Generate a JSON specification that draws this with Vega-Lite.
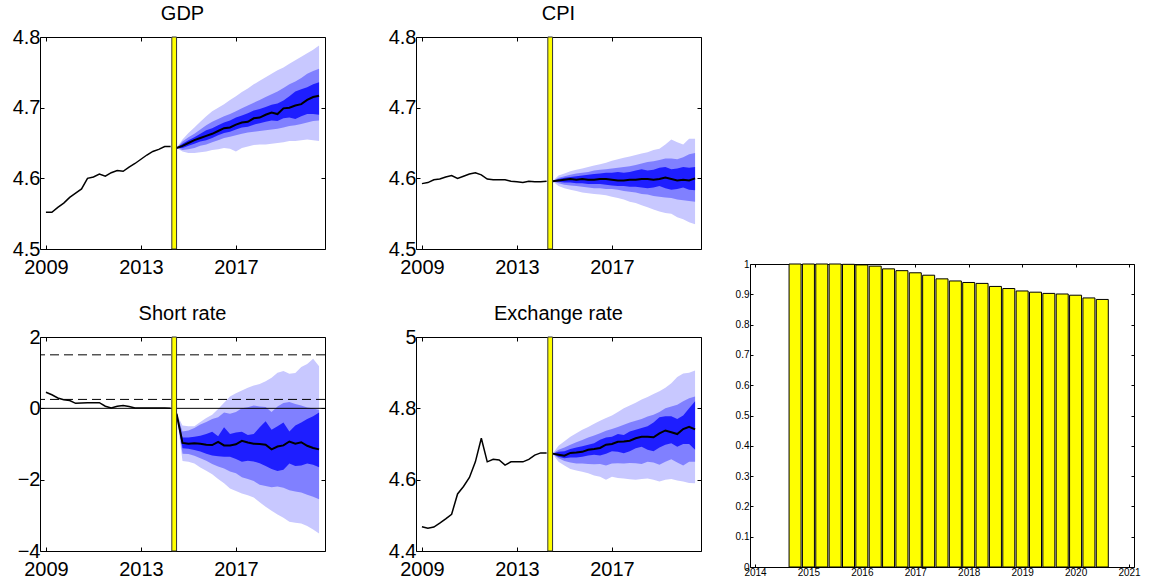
{
  "$schema": "https://vega.github.io/schema/vega-lite/v6.json",
  "padding": {"left": 7, "top": 3, "right": 0, "bottom": 1},
  "background": "white",
  "config": {
    "font": "Liberation Sans",
    "view": {"stroke": "black", "strokeWidth": 1},
    "axis": {"labelColor": "black", "tickColor": "black", "labelFont": "Liberation Sans", "domain": false, "grid": false, "title": null, "tickWidth": 1},
    "title": {"fontSize": 20, "fontWeight": "normal", "font": "Liberation Sans", "color": "black", "frame": "group", "anchor": "middle", "offset": 3}
  },
  "datasets": {
    "hist": [
      {"v":"GDP","t":2009,"y":4.552},{"v":"GDP","t":2009.25,"y":4.552},{"v":"GDP","t":2009.5,"y":4.559},{"v":"GDP","t":2009.75,"y":4.565},{"v":"GDP","t":2010,"y":4.573},{"v":"GDP","t":2010.25,"y":4.579},{"v":"GDP","t":2010.5,"y":4.585},{"v":"GDP","t":2010.75,"y":4.600},{"v":"GDP","t":2011,"y":4.602},{"v":"GDP","t":2011.25,"y":4.606},{"v":"GDP","t":2011.5,"y":4.603},{"v":"GDP","t":2011.75,"y":4.608},{"v":"GDP","t":2012,"y":4.611},{"v":"GDP","t":2012.25,"y":4.610},{"v":"GDP","t":2012.5,"y":4.616},{"v":"GDP","t":2012.75,"y":4.621},{"v":"GDP","t":2013,"y":4.627},{"v":"GDP","t":2013.25,"y":4.633},{"v":"GDP","t":2013.5,"y":4.638},{"v":"GDP","t":2013.75,"y":4.641},{"v":"GDP","t":2014,"y":4.645},{"v":"GDP","t":2014.25,"y":4.645},
      {"v":"CPI","t":2009,"y":4.5925},{"v":"CPI","t":2009.25,"y":4.594},{"v":"CPI","t":2009.5,"y":4.598},{"v":"CPI","t":2009.75,"y":4.599},{"v":"CPI","t":2010,"y":4.602},{"v":"CPI","t":2010.25,"y":4.604},{"v":"CPI","t":2010.5,"y":4.600},{"v":"CPI","t":2010.75,"y":4.603},{"v":"CPI","t":2011,"y":4.606},{"v":"CPI","t":2011.25,"y":4.608},{"v":"CPI","t":2011.5,"y":4.605},{"v":"CPI","t":2011.75,"y":4.599},{"v":"CPI","t":2012,"y":4.598},{"v":"CPI","t":2012.25,"y":4.598},{"v":"CPI","t":2012.5,"y":4.598},{"v":"CPI","t":2012.75,"y":4.596},{"v":"CPI","t":2013,"y":4.595},{"v":"CPI","t":2013.25,"y":4.594},{"v":"CPI","t":2013.5,"y":4.596},{"v":"CPI","t":2013.75,"y":4.595},{"v":"CPI","t":2014,"y":4.595},{"v":"CPI","t":2014.25,"y":4.596},
      {"v":"SR","t":2009,"y":0.45},{"v":"SR","t":2009.25,"y":0.38},{"v":"SR","t":2009.5,"y":0.29},{"v":"SR","t":2009.75,"y":0.24},{"v":"SR","t":2010,"y":0.22},{"v":"SR","t":2010.25,"y":0.14},{"v":"SR","t":2010.5,"y":0.15},{"v":"SR","t":2010.75,"y":0.16},{"v":"SR","t":2011,"y":0.16},{"v":"SR","t":2011.25,"y":0.16},{"v":"SR","t":2011.5,"y":0.06},{"v":"SR","t":2011.75,"y":0.01},{"v":"SR","t":2012,"y":0.06},{"v":"SR","t":2012.25,"y":0.08},{"v":"SR","t":2012.5,"y":0.05},{"v":"SR","t":2012.75,"y":0.01},{"v":"SR","t":2013,"y":0.01},{"v":"SR","t":2013.25,"y":0.01},{"v":"SR","t":2013.5,"y":0.01},{"v":"SR","t":2013.75,"y":0.01},{"v":"SR","t":2014,"y":0.01},{"v":"SR","t":2014.25,"y":0.0},
      {"v":"ER","t":2009,"y":4.468},{"v":"ER","t":2009.25,"y":4.464},{"v":"ER","t":2009.5,"y":4.467},{"v":"ER","t":2009.75,"y":4.478},{"v":"ER","t":2010,"y":4.490},{"v":"ER","t":2010.25,"y":4.503},{"v":"ER","t":2010.5,"y":4.560},{"v":"ER","t":2010.75,"y":4.581},{"v":"ER","t":2011,"y":4.606},{"v":"ER","t":2011.25,"y":4.650},{"v":"ER","t":2011.5,"y":4.716},{"v":"ER","t":2011.75,"y":4.650},{"v":"ER","t":2012,"y":4.657},{"v":"ER","t":2012.25,"y":4.655},{"v":"ER","t":2012.5,"y":4.641},{"v":"ER","t":2012.75,"y":4.650},{"v":"ER","t":2013,"y":4.650},{"v":"ER","t":2013.25,"y":4.650},{"v":"ER","t":2013.5,"y":4.657},{"v":"ER","t":2013.75,"y":4.669},{"v":"ER","t":2014,"y":4.675},{"v":"ER","t":2014.25,"y":4.675}
    ],
    "fc": [
      {"v":"GDP","t":2014.5,"m":4.643,"l3":4.643,"l2":4.643,"l1":4.643,"u1":4.643,"u2":4.643,"u3":4.643},
      {"v":"GDP","t":2014.75,"m":4.646,"l3":4.638,"l2":4.640,"l1":4.643,"u1":4.649,"u2":4.652,"u3":4.655},
      {"v":"GDP","t":2015,"m":4.650,"l3":4.636,"l2":4.641,"l1":4.646,"u1":4.654,"u2":4.658,"u3":4.664},
      {"v":"GDP","t":2015.25,"m":4.654,"l3":4.636,"l2":4.643,"l1":4.649,"u1":4.658,"u2":4.663,"u3":4.672},
      {"v":"GDP","t":2015.5,"m":4.657,"l3":4.637,"l2":4.646,"l1":4.652,"u1":4.663,"u2":4.669,"u3":4.680},
      {"v":"GDP","t":2015.75,"m":4.660,"l3":4.638,"l2":4.648,"l1":4.654,"u1":4.668,"u2":4.675,"u3":4.688},
      {"v":"GDP","t":2016,"m":4.663,"l3":4.640,"l2":4.651,"l1":4.657,"u1":4.671,"u2":4.680,"u3":4.695},
      {"v":"GDP","t":2016.25,"m":4.667,"l3":4.641,"l2":4.654,"l1":4.661,"u1":4.675,"u2":4.684,"u3":4.700},
      {"v":"GDP","t":2016.5,"m":4.671,"l3":4.643,"l2":4.657,"l1":4.664,"u1":4.679,"u2":4.688,"u3":4.705},
      {"v":"GDP","t":2016.75,"m":4.672,"l3":4.642,"l2":4.659,"l1":4.666,"u1":4.682,"u2":4.691,"u3":4.711},
      {"v":"GDP","t":2017,"m":4.676,"l3":4.638,"l2":4.661,"l1":4.669,"u1":4.686,"u2":4.695,"u3":4.716},
      {"v":"GDP","t":2017.25,"m":4.679,"l3":4.643,"l2":4.663,"l1":4.672,"u1":4.689,"u2":4.699,"u3":4.722},
      {"v":"GDP","t":2017.5,"m":4.680,"l3":4.645,"l2":4.665,"l1":4.673,"u1":4.692,"u2":4.703,"u3":4.727},
      {"v":"GDP","t":2017.75,"m":4.685,"l3":4.647,"l2":4.666,"l1":4.676,"u1":4.696,"u2":4.707,"u3":4.733},
      {"v":"GDP","t":2018,"m":4.686,"l3":4.648,"l2":4.667,"l1":4.678,"u1":4.698,"u2":4.711,"u3":4.738},
      {"v":"GDP","t":2018.25,"m":4.690,"l3":4.648,"l2":4.668,"l1":4.680,"u1":4.701,"u2":4.715,"u3":4.743},
      {"v":"GDP","t":2018.5,"m":4.693,"l3":4.649,"l2":4.669,"l1":4.682,"u1":4.704,"u2":4.719,"u3":4.748},
      {"v":"GDP","t":2018.75,"m":4.691,"l3":4.650,"l2":4.670,"l1":4.681,"u1":4.706,"u2":4.723,"u3":4.753},
      {"v":"GDP","t":2019,"m":4.699,"l3":4.651,"l2":4.672,"l1":4.685,"u1":4.710,"u2":4.728,"u3":4.757},
      {"v":"GDP","t":2019.25,"m":4.700,"l3":4.653,"l2":4.674,"l1":4.686,"u1":4.716,"u2":4.733,"u3":4.762},
      {"v":"GDP","t":2019.5,"m":4.703,"l3":4.653,"l2":4.675,"l1":4.684,"u1":4.723,"u2":4.737,"u3":4.767},
      {"v":"GDP","t":2019.75,"m":4.705,"l3":4.654,"l2":4.677,"l1":4.688,"u1":4.726,"u2":4.742,"u3":4.772},
      {"v":"GDP","t":2020,"m":4.711,"l3":4.655,"l2":4.679,"l1":4.691,"u1":4.729,"u2":4.748,"u3":4.777},
      {"v":"GDP","t":2020.25,"m":4.715,"l3":4.654,"l2":4.681,"l1":4.691,"u1":4.733,"u2":4.752,"u3":4.782},
      {"v":"GDP","t":2020.5,"m":4.717,"l3":4.653,"l2":4.682,"l1":4.690,"u1":4.736,"u2":4.755,"u3":4.788},

      {"v":"CPI","t":2014.5,"m":4.596,"l3":4.596,"l2":4.596,"l1":4.596,"u1":4.596,"u2":4.596,"u3":4.596},
      {"v":"CPI","t":2014.75,"m":4.597,"l3":4.589,"l2":4.593,"l1":4.595,"u1":4.599,"u2":4.601,"u3":4.604},
      {"v":"CPI","t":2015,"m":4.598,"l3":4.586,"l2":4.591,"l1":4.594,"u1":4.601,"u2":4.603,"u3":4.607},
      {"v":"CPI","t":2015.25,"m":4.599,"l3":4.584,"l2":4.590,"l1":4.594,"u1":4.602,"u2":4.605,"u3":4.610},
      {"v":"CPI","t":2015.5,"m":4.598,"l3":4.582,"l2":4.589,"l1":4.593,"u1":4.603,"u2":4.607,"u3":4.612},
      {"v":"CPI","t":2015.75,"m":4.599,"l3":4.580,"l2":4.588,"l1":4.593,"u1":4.604,"u2":4.608,"u3":4.614},
      {"v":"CPI","t":2016,"m":4.598,"l3":4.579,"l2":4.587,"l1":4.592,"u1":4.605,"u2":4.609,"u3":4.616},
      {"v":"CPI","t":2016.25,"m":4.598,"l3":4.578,"l2":4.586,"l1":4.592,"u1":4.606,"u2":4.611,"u3":4.618},
      {"v":"CPI","t":2016.5,"m":4.599,"l3":4.577,"l2":4.586,"l1":4.592,"u1":4.607,"u2":4.612,"u3":4.620},
      {"v":"CPI","t":2016.75,"m":4.599,"l3":4.576,"l2":4.585,"l1":4.591,"u1":4.608,"u2":4.613,"u3":4.622},
      {"v":"CPI","t":2017,"m":4.598,"l3":4.574,"l2":4.585,"l1":4.590,"u1":4.608,"u2":4.614,"u3":4.625},
      {"v":"CPI","t":2017.25,"m":4.597,"l3":4.572,"l2":4.584,"l1":4.589,"u1":4.609,"u2":4.615,"u3":4.627},
      {"v":"CPI","t":2017.5,"m":4.597,"l3":4.570,"l2":4.582,"l1":4.589,"u1":4.608,"u2":4.616,"u3":4.629},
      {"v":"CPI","t":2017.75,"m":4.598,"l3":4.567,"l2":4.581,"l1":4.588,"u1":4.609,"u2":4.617,"u3":4.631},
      {"v":"CPI","t":2018,"m":4.598,"l3":4.565,"l2":4.580,"l1":4.588,"u1":4.611,"u2":4.619,"u3":4.633},
      {"v":"CPI","t":2018.25,"m":4.599,"l3":4.562,"l2":4.578,"l1":4.587,"u1":4.613,"u2":4.621,"u3":4.635},
      {"v":"CPI","t":2018.5,"m":4.599,"l3":4.559,"l2":4.577,"l1":4.586,"u1":4.611,"u2":4.623,"u3":4.637},
      {"v":"CPI","t":2018.75,"m":4.598,"l3":4.556,"l2":4.575,"l1":4.587,"u1":4.612,"u2":4.624,"u3":4.640},
      {"v":"CPI","t":2019,"m":4.599,"l3":4.553,"l2":4.574,"l1":4.589,"u1":4.615,"u2":4.626,"u3":4.642},
      {"v":"CPI","t":2019.25,"m":4.601,"l3":4.551,"l2":4.573,"l1":4.586,"u1":4.616,"u2":4.628,"u3":4.648},
      {"v":"CPI","t":2019.5,"m":4.599,"l3":4.550,"l2":4.572,"l1":4.584,"u1":4.613,"u2":4.628,"u3":4.655},
      {"v":"CPI","t":2019.75,"m":4.597,"l3":4.545,"l2":4.570,"l1":4.585,"u1":4.614,"u2":4.627,"u3":4.651},
      {"v":"CPI","t":2020,"m":4.598,"l3":4.542,"l2":4.569,"l1":4.587,"u1":4.616,"u2":4.630,"u3":4.648},
      {"v":"CPI","t":2020.25,"m":4.597,"l3":4.538,"l2":4.568,"l1":4.584,"u1":4.615,"u2":4.634,"u3":4.656},
      {"v":"CPI","t":2020.5,"m":4.600,"l3":4.535,"l2":4.567,"l1":4.583,"u1":4.616,"u2":4.636,"u3":4.656},

      {"v":"SR","t":2014.5,"m":-0.15,"l3":-0.15,"l2":-0.15,"l1":-0.15,"u1":-0.15,"u2":-0.15,"u3":-0.15},
      {"v":"SR","t":2014.75,"m":-0.97,"l3":-1.48,"l2":-1.27,"l1":-1.12,"u1":-0.82,"u2":-0.65,"u3":-0.48},
      {"v":"SR","t":2015,"m":-0.99,"l3":-1.50,"l2":-1.28,"l1":-1.13,"u1":-0.82,"u2":-0.62,"u3":-0.50},
      {"v":"SR","t":2015.25,"m":-0.98,"l3":-1.55,"l2":-1.33,"l1":-1.17,"u1":-0.80,"u2":-0.55,"u3":-0.50},
      {"v":"SR","t":2015.5,"m":-0.99,"l3":-1.66,"l2":-1.40,"l1":-1.21,"u1":-0.77,"u2":-0.45,"u3":-0.38},
      {"v":"SR","t":2015.75,"m":-1.02,"l3":-1.75,"l2":-1.47,"l1":-1.27,"u1":-0.72,"u2":-0.38,"u3":-0.27},
      {"v":"SR","t":2016,"m":-1.03,"l3":-1.85,"l2":-1.56,"l1":-1.32,"u1":-0.66,"u2":-0.30,"u3":-0.18},
      {"v":"SR","t":2016.25,"m":-0.94,"l3":-1.98,"l2":-1.63,"l1":-1.34,"u1":-0.78,"u2":-0.25,"u3":-0.02},
      {"v":"SR","t":2016.5,"m":-1.04,"l3":-2.10,"l2":-1.69,"l1":-1.36,"u1":-0.53,"u2":-0.12,"u3":0.16},
      {"v":"SR","t":2016.75,"m":-1.04,"l3":-2.25,"l2":-1.77,"l1":-1.36,"u1":-0.72,"u2":-0.15,"u3":0.33},
      {"v":"SR","t":2017,"m":-1.01,"l3":-2.32,"l2":-1.82,"l1":-1.42,"u1":-0.68,"u2":-0.10,"u3":0.42},
      {"v":"SR","t":2017.25,"m":-0.91,"l3":-2.39,"l2":-1.93,"l1":-1.50,"u1":-0.66,"u2":0.00,"u3":0.50},
      {"v":"SR","t":2017.5,"m":-0.96,"l3":-2.44,"l2":-1.98,"l1":-1.47,"u1":-0.75,"u2":0.03,"u3":0.58},
      {"v":"SR","t":2017.75,"m":-0.99,"l3":-2.50,"l2":-2.04,"l1":-1.49,"u1":-0.72,"u2":0.08,"u3":0.64},
      {"v":"SR","t":2018,"m":-1.00,"l3":-2.63,"l2":-2.14,"l1":-1.54,"u1":-0.53,"u2":0.05,"u3":0.68},
      {"v":"SR","t":2018.25,"m":-1.02,"l3":-2.76,"l2":-2.18,"l1":-1.62,"u1":-0.36,"u2":0.04,"u3":0.76},
      {"v":"SR","t":2018.5,"m":-1.15,"l3":-2.87,"l2":-2.21,"l1":-1.70,"u1":-0.60,"u2":-0.10,"u3":0.86},
      {"v":"SR","t":2018.75,"m":-1.07,"l3":-2.98,"l2":-2.19,"l1":-1.76,"u1":-0.50,"u2":0.05,"u3":1.00},
      {"v":"SR","t":2019,"m":-1.04,"l3":-3.07,"l2":-2.23,"l1":-1.72,"u1":-0.40,"u2":0.15,"u3":1.05},
      {"v":"SR","t":2019.25,"m":-0.93,"l3":-3.18,"l2":-2.30,"l1":-1.55,"u1":-0.65,"u2":0.18,"u3":0.97},
      {"v":"SR","t":2019.5,"m":-0.99,"l3":-3.21,"l2":-2.33,"l1":-1.62,"u1":-0.48,"u2":0.12,"u3":0.99},
      {"v":"SR","t":2019.75,"m":-0.95,"l3":-3.23,"l2":-2.36,"l1":-1.60,"u1":-0.40,"u2":0.08,"u3":1.16},
      {"v":"SR","t":2020,"m":-1.05,"l3":-3.30,"l2":-2.42,"l1":-1.55,"u1":-0.30,"u2":0.02,"u3":1.24},
      {"v":"SR","t":2020.25,"m":-1.11,"l3":-3.40,"l2":-2.48,"l1":-1.58,"u1":-0.22,"u2":0.00,"u3":1.39},
      {"v":"SR","t":2020.5,"m":-1.15,"l3":-3.51,"l2":-2.55,"l1":-1.65,"u1":-0.12,"u2":-0.05,"u3":1.18},

      {"v":"ER","t":2014.5,"m":4.673,"l3":4.673,"l2":4.673,"l1":4.673,"u1":4.673,"u2":4.673,"u3":4.673},
      {"v":"ER","t":2014.75,"m":4.670,"l3":4.650,"l2":4.660,"l1":4.664,"u1":4.678,"u2":4.684,"u3":4.695},
      {"v":"ER","t":2015,"m":4.667,"l3":4.640,"l2":4.652,"l1":4.660,"u1":4.680,"u2":4.690,"u3":4.708},
      {"v":"ER","t":2015.25,"m":4.675,"l3":4.630,"l2":4.648,"l1":4.662,"u1":4.686,"u2":4.698,"u3":4.720},
      {"v":"ER","t":2015.5,"m":4.676,"l3":4.626,"l2":4.645,"l1":4.662,"u1":4.690,"u2":4.705,"u3":4.730},
      {"v":"ER","t":2015.75,"m":4.678,"l3":4.622,"l2":4.645,"l1":4.664,"u1":4.694,"u2":4.711,"u3":4.740},
      {"v":"ER","t":2016,"m":4.684,"l3":4.618,"l2":4.644,"l1":4.668,"u1":4.698,"u2":4.718,"u3":4.748},
      {"v":"ER","t":2016.25,"m":4.686,"l3":4.612,"l2":4.643,"l1":4.670,"u1":4.702,"u2":4.724,"u3":4.757},
      {"v":"ER","t":2016.5,"m":4.689,"l3":4.608,"l2":4.644,"l1":4.668,"u1":4.712,"u2":4.730,"u3":4.765},
      {"v":"ER","t":2016.75,"m":4.698,"l3":4.600,"l2":4.640,"l1":4.673,"u1":4.718,"u2":4.737,"u3":4.773},
      {"v":"ER","t":2017,"m":4.700,"l3":4.608,"l2":4.645,"l1":4.680,"u1":4.720,"u2":4.742,"u3":4.780},
      {"v":"ER","t":2017.25,"m":4.706,"l3":4.605,"l2":4.646,"l1":4.678,"u1":4.728,"u2":4.748,"u3":4.790},
      {"v":"ER","t":2017.5,"m":4.707,"l3":4.603,"l2":4.645,"l1":4.674,"u1":4.725,"u2":4.754,"u3":4.800},
      {"v":"ER","t":2017.75,"m":4.709,"l3":4.601,"l2":4.647,"l1":4.680,"u1":4.735,"u2":4.760,"u3":4.808},
      {"v":"ER","t":2018,"m":4.716,"l3":4.600,"l2":4.646,"l1":4.688,"u1":4.740,"u2":4.765,"u3":4.816},
      {"v":"ER","t":2018.25,"m":4.720,"l3":4.602,"l2":4.644,"l1":4.692,"u1":4.745,"u2":4.770,"u3":4.825},
      {"v":"ER","t":2018.5,"m":4.720,"l3":4.603,"l2":4.650,"l1":4.684,"u1":4.750,"u2":4.777,"u3":4.832},
      {"v":"ER","t":2018.75,"m":4.719,"l3":4.600,"l2":4.648,"l1":4.680,"u1":4.760,"u2":4.782,"u3":4.840},
      {"v":"ER","t":2019,"m":4.730,"l3":4.595,"l2":4.642,"l1":4.690,"u1":4.775,"u2":4.790,"u3":4.848},
      {"v":"ER","t":2019.25,"m":4.738,"l3":4.600,"l2":4.650,"l1":4.698,"u1":4.778,"u2":4.800,"u3":4.858},
      {"v":"ER","t":2019.5,"m":4.733,"l3":4.602,"l2":4.657,"l1":4.702,"u1":4.778,"u2":4.805,"u3":4.870},
      {"v":"ER","t":2019.75,"m":4.728,"l3":4.598,"l2":4.648,"l1":4.692,"u1":4.770,"u2":4.810,"u3":4.888},
      {"v":"ER","t":2020,"m":4.742,"l3":4.595,"l2":4.640,"l1":4.700,"u1":4.780,"u2":4.820,"u3":4.898},
      {"v":"ER","t":2020.25,"m":4.748,"l3":4.591,"l2":4.650,"l1":4.700,"u1":4.800,"u2":4.828,"u3":4.900},
      {"v":"ER","t":2020.5,"m":4.741,"l3":4.590,"l2":4.650,"l1":4.684,"u1":4.820,"u2":4.833,"u3":4.906}
    ],
    "prob": [
      {"t":2014.75,"p":1.0},{"t":2015,"p":1.0},{"t":2015.25,"p":1.0},{"t":2015.5,"p":1.0},{"t":2015.75,"p":0.999},{"t":2016,"p":0.997},{"t":2016.25,"p":0.993},{"t":2016.5,"p":0.984},{"t":2016.75,"p":0.978},{"t":2017,"p":0.971},{"t":2017.25,"p":0.963},{"t":2017.5,"p":0.951},{"t":2017.75,"p":0.944},{"t":2018,"p":0.939},{"t":2018.25,"p":0.936},{"t":2018.5,"p":0.926},{"t":2018.75,"p":0.919},{"t":2019,"p":0.911},{"t":2019.25,"p":0.907},{"t":2019.5,"p":0.903},{"t":2019.75,"p":0.901},{"t":2020,"p":0.897},{"t":2020.25,"p":0.888},{"t":2020.5,"p":0.883}
    ]
  },
  "spacing": 32,
  "hconcat": [
    {
      "spacing": 25,
      "vconcat": [
        {
          "spacing": 57,
          "hconcat": [
            {
              "width": 285, "height": 212,
              "title": "GDP",
              "layer": [
                {"data": {"name": "fc"}, "transform": [{"filter": "datum.v == 'GDP'"}], "mark": {"type": "area", "color": "#c8c8ff"},
                 "encoding": {"x": {"field": "t", "type": "quantitative", "scale": {"domain": [2008.75, 2020.75], "nice": false}, "axis": null}, "y": {"field": "l3", "type": "quantitative", "scale": {"domain": [4.5, 4.8], "nice": false}, "axis": null}, "y2": {"field": "u3"}}},
                {"data": {"name": "fc"}, "transform": [{"filter": "datum.v == 'GDP'"}], "mark": {"type": "area", "color": "#8080ff"},
                 "encoding": {"x": {"field": "t", "type": "quantitative", "axis": null}, "y": {"field": "l2", "type": "quantitative", "axis": null}, "y2": {"field": "u2"}}},
                {"data": {"name": "fc"}, "transform": [{"filter": "datum.v == 'GDP'"}], "mark": {"type": "area", "color": "#1e1eff"},
                 "encoding": {"x": {"field": "t", "type": "quantitative", "axis": null}, "y": {"field": "l1", "type": "quantitative", "axis": null}, "y2": {"field": "u1"}}},
                {"data": {"name": "fc"}, "transform": [{"filter": "datum.v == 'GDP'"}], "mark": {"type": "line", "color": "black", "strokeWidth": 2},
                 "encoding": {"x": {"field": "t", "type": "quantitative", "axis": null}, "y": {"field": "m", "type": "quantitative", "axis": null}}},
                {"data": {"values": [{"a": 2014.3, "b": 2014.5}]}, "mark": {"type": "rect", "fill": "#ffff00", "stroke": "#333333", "strokeWidth": 1},
                 "encoding": {"x": {"field": "a", "type": "quantitative", "axis": null}, "x2": {"field": "b"}}},
                {"data": {"name": "hist"}, "transform": [{"filter": "datum.v == 'GDP'"}], "mark": {"type": "line", "color": "black", "strokeWidth": 1.5},
                 "encoding": {"x": {"field": "t", "type": "quantitative", "axis": {"orient": "bottom", "values": [2009, 2013, 2017], "format": "d", "labelFontSize": 20, "tickSize": -4, "labelPadding": 12}},
                              "y": {"field": "y", "type": "quantitative", "axis": {"orient": "left", "values": [4.5, 4.6, 4.7, 4.8], "format": "~g", "labelFontSize": 20, "tickSize": -4, "labelPadding": 4, "minExtent": 32, "maxExtent": 32}}}},
                {"data": {"name": "hist"}, "transform": [{"filter": "datum.v == 'GDP'"}], "mark": {"type": "line", "opacity": 0},
                 "encoding": {"x": {"field": "t", "type": "quantitative", "axis": {"orient": "top", "values": [2009, 2013, 2017], "labels": false, "tickSize": -4}},
                              "y": {"field": "y", "type": "quantitative", "axis": {"orient": "right", "values": [4.5, 4.6, 4.7, 4.8], "labels": false, "tickSize": -4}}}}
              ],
              "resolve": {"axis": {"x": "independent", "y": "independent"}}
            },
            {
              "width": 285, "height": 212,
              "title": "CPI",
              "layer": [
                {"data": {"name": "fc"}, "transform": [{"filter": "datum.v == 'CPI'"}], "mark": {"type": "area", "color": "#c8c8ff"},
                 "encoding": {"x": {"field": "t", "type": "quantitative", "scale": {"domain": [2008.75, 2020.75], "nice": false}, "axis": null}, "y": {"field": "l3", "type": "quantitative", "scale": {"domain": [4.5, 4.8], "nice": false}, "axis": null}, "y2": {"field": "u3"}}},
                {"data": {"name": "fc"}, "transform": [{"filter": "datum.v == 'CPI'"}], "mark": {"type": "area", "color": "#8080ff"},
                 "encoding": {"x": {"field": "t", "type": "quantitative", "axis": null}, "y": {"field": "l2", "type": "quantitative", "axis": null}, "y2": {"field": "u2"}}},
                {"data": {"name": "fc"}, "transform": [{"filter": "datum.v == 'CPI'"}], "mark": {"type": "area", "color": "#1e1eff"},
                 "encoding": {"x": {"field": "t", "type": "quantitative", "axis": null}, "y": {"field": "l1", "type": "quantitative", "axis": null}, "y2": {"field": "u1"}}},
                {"data": {"name": "fc"}, "transform": [{"filter": "datum.v == 'CPI'"}], "mark": {"type": "line", "color": "black", "strokeWidth": 2},
                 "encoding": {"x": {"field": "t", "type": "quantitative", "axis": null}, "y": {"field": "m", "type": "quantitative", "axis": null}}},
                {"data": {"values": [{"a": 2014.3, "b": 2014.5}]}, "mark": {"type": "rect", "fill": "#ffff00", "stroke": "#333333", "strokeWidth": 1},
                 "encoding": {"x": {"field": "a", "type": "quantitative", "axis": null}, "x2": {"field": "b"}}},
                {"data": {"name": "hist"}, "transform": [{"filter": "datum.v == 'CPI'"}], "mark": {"type": "line", "color": "black", "strokeWidth": 1.5},
                 "encoding": {"x": {"field": "t", "type": "quantitative", "axis": {"orient": "bottom", "values": [2009, 2013, 2017], "format": "d", "labelFontSize": 20, "tickSize": -4, "labelPadding": 12}},
                              "y": {"field": "y", "type": "quantitative", "axis": {"orient": "left", "values": [4.5, 4.6, 4.7, 4.8], "format": "~g", "labelFontSize": 20, "tickSize": -4, "labelPadding": 4, "minExtent": 32, "maxExtent": 32}}}},
                {"data": {"name": "hist"}, "transform": [{"filter": "datum.v == 'CPI'"}], "mark": {"type": "line", "opacity": 0},
                 "encoding": {"x": {"field": "t", "type": "quantitative", "axis": {"orient": "top", "values": [2009, 2013, 2017], "labels": false, "tickSize": -4}},
                              "y": {"field": "y", "type": "quantitative", "axis": {"orient": "right", "values": [4.5, 4.6, 4.7, 4.8], "labels": false, "tickSize": -4}}}}
              ],
              "resolve": {"axis": {"x": "independent", "y": "independent"}}
            }
          ]
        },
        {
          "spacing": 57,
          "hconcat": [
            {
              "width": 285, "height": 214,
              "title": "Short rate",
              "layer": [
                {"data": {"name": "fc"}, "transform": [{"filter": "datum.v == 'SR'"}], "mark": {"type": "area", "color": "#c8c8ff"},
                 "encoding": {"x": {"field": "t", "type": "quantitative", "scale": {"domain": [2008.75, 2020.75], "nice": false}, "axis": null}, "y": {"field": "l3", "type": "quantitative", "scale": {"domain": [-4, 2], "nice": false}, "axis": null}, "y2": {"field": "u3"}}},
                {"data": {"name": "fc"}, "transform": [{"filter": "datum.v == 'SR'"}], "mark": {"type": "area", "color": "#8080ff"},
                 "encoding": {"x": {"field": "t", "type": "quantitative", "axis": null}, "y": {"field": "l2", "type": "quantitative", "axis": null}, "y2": {"field": "u2"}}},
                {"data": {"name": "fc"}, "transform": [{"filter": "datum.v == 'SR'"}], "mark": {"type": "area", "color": "#1e1eff"},
                 "encoding": {"x": {"field": "t", "type": "quantitative", "axis": null}, "y": {"field": "l1", "type": "quantitative", "axis": null}, "y2": {"field": "u1"}}},
                {"data": {"values": [{"y": 1.5}, {"y": 0.25}]}, "mark": {"type": "rule", "color": "black", "strokeWidth": 1, "strokeDash": [9, 5]},
                 "encoding": {"y": {"field": "y", "type": "quantitative", "axis": null}}},
                {"data": {"values": [{"y": 0}]}, "mark": {"type": "rule", "color": "black", "strokeWidth": 1},
                 "encoding": {"y": {"field": "y", "type": "quantitative", "axis": null}}},
                {"data": {"name": "fc"}, "transform": [{"filter": "datum.v == 'SR'"}], "mark": {"type": "line", "color": "black", "strokeWidth": 2},
                 "encoding": {"x": {"field": "t", "type": "quantitative", "axis": null}, "y": {"field": "m", "type": "quantitative", "axis": null}}},
                {"data": {"values": [{"a": 2014.3, "b": 2014.5}]}, "mark": {"type": "rect", "fill": "#ffff00", "stroke": "#333333", "strokeWidth": 1},
                 "encoding": {"x": {"field": "a", "type": "quantitative", "axis": null}, "x2": {"field": "b"}}},
                {"data": {"name": "hist"}, "transform": [{"filter": "datum.v == 'SR'"}], "mark": {"type": "line", "color": "black", "strokeWidth": 1.5},
                 "encoding": {"x": {"field": "t", "type": "quantitative", "axis": {"orient": "bottom", "values": [2009, 2013, 2017], "format": "d", "labelFontSize": 20, "tickSize": -4, "labelPadding": 12}},
                              "y": {"field": "y", "type": "quantitative", "axis": {"orient": "left", "values": [-4, -2, 0, 2], "format": "~g", "labelFontSize": 20, "tickSize": -4, "labelPadding": 4, "minExtent": 32, "maxExtent": 32}}}},
                {"data": {"name": "hist"}, "transform": [{"filter": "datum.v == 'SR'"}], "mark": {"type": "line", "opacity": 0},
                 "encoding": {"x": {"field": "t", "type": "quantitative", "axis": {"orient": "top", "values": [2009, 2013, 2017], "labels": false, "tickSize": -4}},
                              "y": {"field": "y", "type": "quantitative", "axis": {"orient": "right", "values": [-4, -2, 0, 2], "labels": false, "tickSize": -4}}}}
              ],
              "resolve": {"axis": {"x": "independent", "y": "independent"}}
            },
            {
              "width": 285, "height": 214,
              "title": "Exchange rate",
              "layer": [
                {"data": {"name": "fc"}, "transform": [{"filter": "datum.v == 'ER'"}], "mark": {"type": "area", "color": "#c8c8ff"},
                 "encoding": {"x": {"field": "t", "type": "quantitative", "scale": {"domain": [2008.75, 2020.75], "nice": false}, "axis": null}, "y": {"field": "l3", "type": "quantitative", "scale": {"domain": [4.4, 5], "nice": false}, "axis": null}, "y2": {"field": "u3"}}},
                {"data": {"name": "fc"}, "transform": [{"filter": "datum.v == 'ER'"}], "mark": {"type": "area", "color": "#8080ff"},
                 "encoding": {"x": {"field": "t", "type": "quantitative", "axis": null}, "y": {"field": "l2", "type": "quantitative", "axis": null}, "y2": {"field": "u2"}}},
                {"data": {"name": "fc"}, "transform": [{"filter": "datum.v == 'ER'"}], "mark": {"type": "area", "color": "#1e1eff"},
                 "encoding": {"x": {"field": "t", "type": "quantitative", "axis": null}, "y": {"field": "l1", "type": "quantitative", "axis": null}, "y2": {"field": "u1"}}},
                {"data": {"name": "fc"}, "transform": [{"filter": "datum.v == 'ER'"}], "mark": {"type": "line", "color": "black", "strokeWidth": 2},
                 "encoding": {"x": {"field": "t", "type": "quantitative", "axis": null}, "y": {"field": "m", "type": "quantitative", "axis": null}}},
                {"data": {"values": [{"a": 2014.3, "b": 2014.5}]}, "mark": {"type": "rect", "fill": "#ffff00", "stroke": "#333333", "strokeWidth": 1},
                 "encoding": {"x": {"field": "a", "type": "quantitative", "axis": null}, "x2": {"field": "b"}}},
                {"data": {"name": "hist"}, "transform": [{"filter": "datum.v == 'ER'"}], "mark": {"type": "line", "color": "black", "strokeWidth": 1.5},
                 "encoding": {"x": {"field": "t", "type": "quantitative", "axis": {"orient": "bottom", "values": [2009, 2013, 2017], "format": "d", "labelFontSize": 20, "tickSize": -4, "labelPadding": 12}},
                              "y": {"field": "y", "type": "quantitative", "axis": {"orient": "left", "values": [4.4, 4.6, 4.8, 5], "format": "~g", "labelFontSize": 20, "tickSize": -4, "labelPadding": 4, "minExtent": 32, "maxExtent": 32}}}},
                {"data": {"name": "hist"}, "transform": [{"filter": "datum.v == 'ER'"}], "mark": {"type": "line", "opacity": 0},
                 "encoding": {"x": {"field": "t", "type": "quantitative", "axis": {"orient": "top", "values": [2009, 2013, 2017], "labels": false, "tickSize": -4}},
                              "y": {"field": "y", "type": "quantitative", "axis": {"orient": "right", "values": [4.4, 4.6, 4.8, 5], "labels": false, "tickSize": -4}}}}
              ],
              "resolve": {"axis": {"x": "independent", "y": "independent"}}
            }
          ]
        }
      ]
    },
    {
      "spacing": 0,
      "vconcat": [
        {
          "width": 384, "height": 221,
          "view": {"stroke": null},
          "data": {"values": [{"s": ""}]},
          "mark": {"type": "text"},
          "encoding": {"text": {"field": "s"}}
        },
        {
          "width": 384, "height": 303,
          "data": {"name": "prob"},
          "layer": [
            {"mark": {"type": "bar", "orient": "vertical", "fill": "#ffff00", "stroke": "black", "strokeWidth": 1, "width": 12},
             "encoding": {"x": {"field": "t", "type": "quantitative", "scale": {"domain": [2014, 2021], "nice": false}, "axis": {"orient": "bottom", "values": [2014, 2015, 2016, 2017, 2018, 2019, 2020, 2021], "format": "d", "labelFontSize": 10, "tickSize": -3, "labelPadding": 3}},
                          "y": {"field": "p", "type": "quantitative", "scale": {"domain": [0, 1], "nice": false}, "axis": {"orient": "left", "values": [0, 0.1, 0.2, 0.3, 0.4, 0.5, 0.6, 0.7, 0.8, 0.9, 1], "format": "~g", "labelFontSize": 10, "tickSize": -3, "labelPadding": 4}}}},
            {"mark": {"type": "bar", "orient": "vertical", "opacity": 0, "width": 12},
             "encoding": {"x": {"field": "t", "type": "quantitative", "axis": {"orient": "top", "values": [2014, 2015, 2016, 2017, 2018, 2019, 2020, 2021], "labels": false, "tickSize": -3}},
                          "y": {"field": "p", "type": "quantitative", "axis": {"orient": "right", "values": [0, 0.1, 0.2, 0.3, 0.4, 0.5, 0.6, 0.7, 0.8, 0.9, 1], "labels": false, "tickSize": -3}}}}
          ],
          "resolve": {"axis": {"x": "independent", "y": "independent"}}
        }
      ]
    }
  ]
}
